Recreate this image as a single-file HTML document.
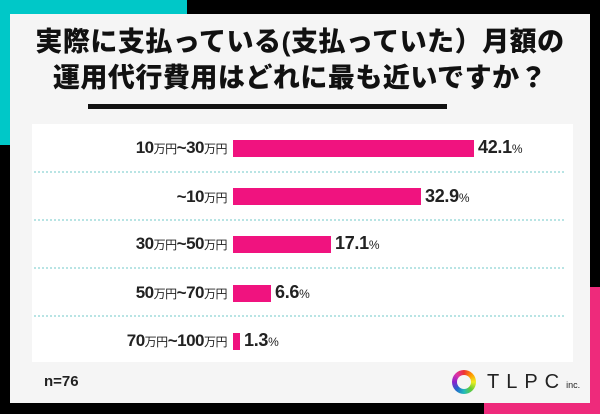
<!DOCTYPE html><html><head><meta charset="utf-8"><style>
body{margin:0;width:600px;height:414px;background:#000;position:relative;overflow:hidden;font-family:"Liberation Sans","Noto Sans CJK JP",sans-serif}
div{position:absolute}
.lab{right:373px;font-size:17px;color:#222;white-space:nowrap;letter-spacing:-0.5px;font-weight:bold}
.lab small{font-size:12px;font-weight:normal}
.bar{left:233px;height:17px;background:#f0137f}
.val{font-size:18px;color:#222;white-space:nowrap;letter-spacing:-0.3px;font-weight:bold}
.val small{font-size:12px;font-weight:normal}
.sep{left:34px;width:530px;border-top:2px dotted #b8e4e4}
</style></head><body>
<div style="left:0;top:0;width:187px;height:14px;background:#00c8c8"></div>
<div style="left:0;top:0;width:10px;height:145px;background:#00c8c8"></div>
<div style="left:590px;top:287px;width:10px;height:127px;background:#ee2a7b"></div>
<div style="left:484px;top:403px;width:116px;height:11px;background:#ee2a7b"></div>
<div style="left:10px;top:14px;width:580px;height:389px;background:#f5f5f5"></div>
<div style="left:10px;top:24px;width:580px;text-align:center;font-size:27px;font-weight:900;line-height:36px;color:#111;letter-spacing:0.5px">実際に支払っている(支払っていた）月額の<br>運用代行費用はどれに最も近いですか？</div>
<div style="left:88px;top:104px;width:359px;height:5px;background:#111"></div>
<div style="left:32px;top:124px;width:541px;height:238px;background:#fff"></div>
<div class="sep" style="top:171px"></div><div class="sep" style="top:219px"></div><div class="sep" style="top:267px"></div><div class="sep" style="top:315px"></div>
<div class="lab" style="top:138px">10<small>万円</small>~30<small>万円</small></div>
<div class="bar" style="top:140px;width:241px"></div><div class="val" style="left:478px;top:137px">42.1<small>%</small></div>
<div class="lab" style="top:187px">~10<small>万円</small></div>
<div class="bar" style="top:188px;width:188px"></div><div class="val" style="left:425px;top:186px">32.9<small>%</small></div>
<div class="lab" style="top:234px">30<small>万円</small>~50<small>万円</small></div>
<div class="bar" style="top:236px;width:98px"></div><div class="val" style="left:335px;top:233px">17.1<small>%</small></div>
<div class="lab" style="top:283px">50<small>万円</small>~70<small>万円</small></div>
<div class="bar" style="top:285px;width:38px"></div><div class="val" style="left:275px;top:282px">6.6<small>%</small></div>
<div class="lab" style="top:331px">70<small>万円</small>~100<small>万円</small></div>
<div class="bar" style="top:333px;width:7px"></div><div class="val" style="left:244px;top:330px">1.3<small>%</small></div>
<div style="left:44px;top:373px;font-size:15px;font-weight:bold;color:#222">n=76</div>
<div style="left:452px;top:370px;width:24px;height:24px;border-radius:50%;background:conic-gradient(#e33,#f90,#ee2,#6c3,#2bb,#26c,#82c,#d3a,#e33)"></div>
<div style="left:457px;top:375px;width:14px;height:14px;border-radius:50%;background:#f5f5f5"></div>
<div style="left:487px;top:371px;font-size:20px;color:#222;letter-spacing:7px">TLPC<span style="font-size:9px;letter-spacing:0">inc.</span></div>
</body></html>
